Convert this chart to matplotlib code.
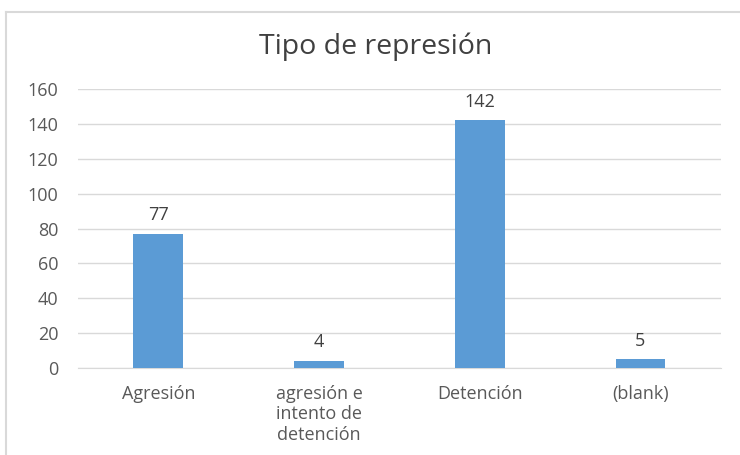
import matplotlib.pyplot as plt
from matplotlib.lines import Line2D

categories = ["Agresión", "agresión e\nintento de\ndetención", "Detención", "(blank)"]
values = [77, 4, 142, 5]
yticks = [0, 20, 40, 60, 80, 100, 120, 140, 160]

plt.rcParams['font.family'] = ['Open Sans', 'DejaVu Sans']

fig = plt.figure(figsize=(7.4, 4.55), dpi=100)
ax = fig.add_axes([0.1054, 0.1912, 0.8686, 0.6132])

x = range(len(categories))
bars = ax.bar(x, values, width=0.31, color='#5B9BD5', zorder=3)

for b, v in zip(bars, values):
    ax.annotate(str(v), (b.get_x() + b.get_width() / 2, v), xytext=(0, 7),
                textcoords='offset points', ha='center', va='bottom',
                fontsize=13, color='#404040')

ax.set_xlim(-0.5, len(categories) - 0.5)
ax.set_ylim(0, 160)
ax.set_yticks(yticks)
ax.set_xticks(list(x))
ax.set_xticklabels(categories, fontsize=13, color='#595959', linespacing=1.2)
ax.tick_params(axis='y', labelsize=13, labelcolor='#595959', length=0, pad=14)
ax.tick_params(axis='x', length=0, pad=12)
ax.grid(axis='y', color='#D9D9D9', linewidth=1, zorder=0)

for s in ['top', 'right', 'left']:
    ax.spines[s].set_visible(False)
ax.spines['bottom'].set_color('#D9D9D9')

fig.text(0.508, 0.897, "Tipo de represión", ha='center', va='center',
         fontsize=20.5, color='#404040')

# chart area border (top and left edges visible)
fig.add_artist(Line2D([6 / 740, 1], [1 - 12 / 455, 1 - 12 / 455],
                      transform=fig.transFigure, color='#D9D9D9', linewidth=1.5))
fig.add_artist(Line2D([6 / 740, 6 / 740], [0, 1 - 12 / 455],
                      transform=fig.transFigure, color='#D9D9D9', linewidth=1.5))

fig.savefig("out.png", dpi=100)
